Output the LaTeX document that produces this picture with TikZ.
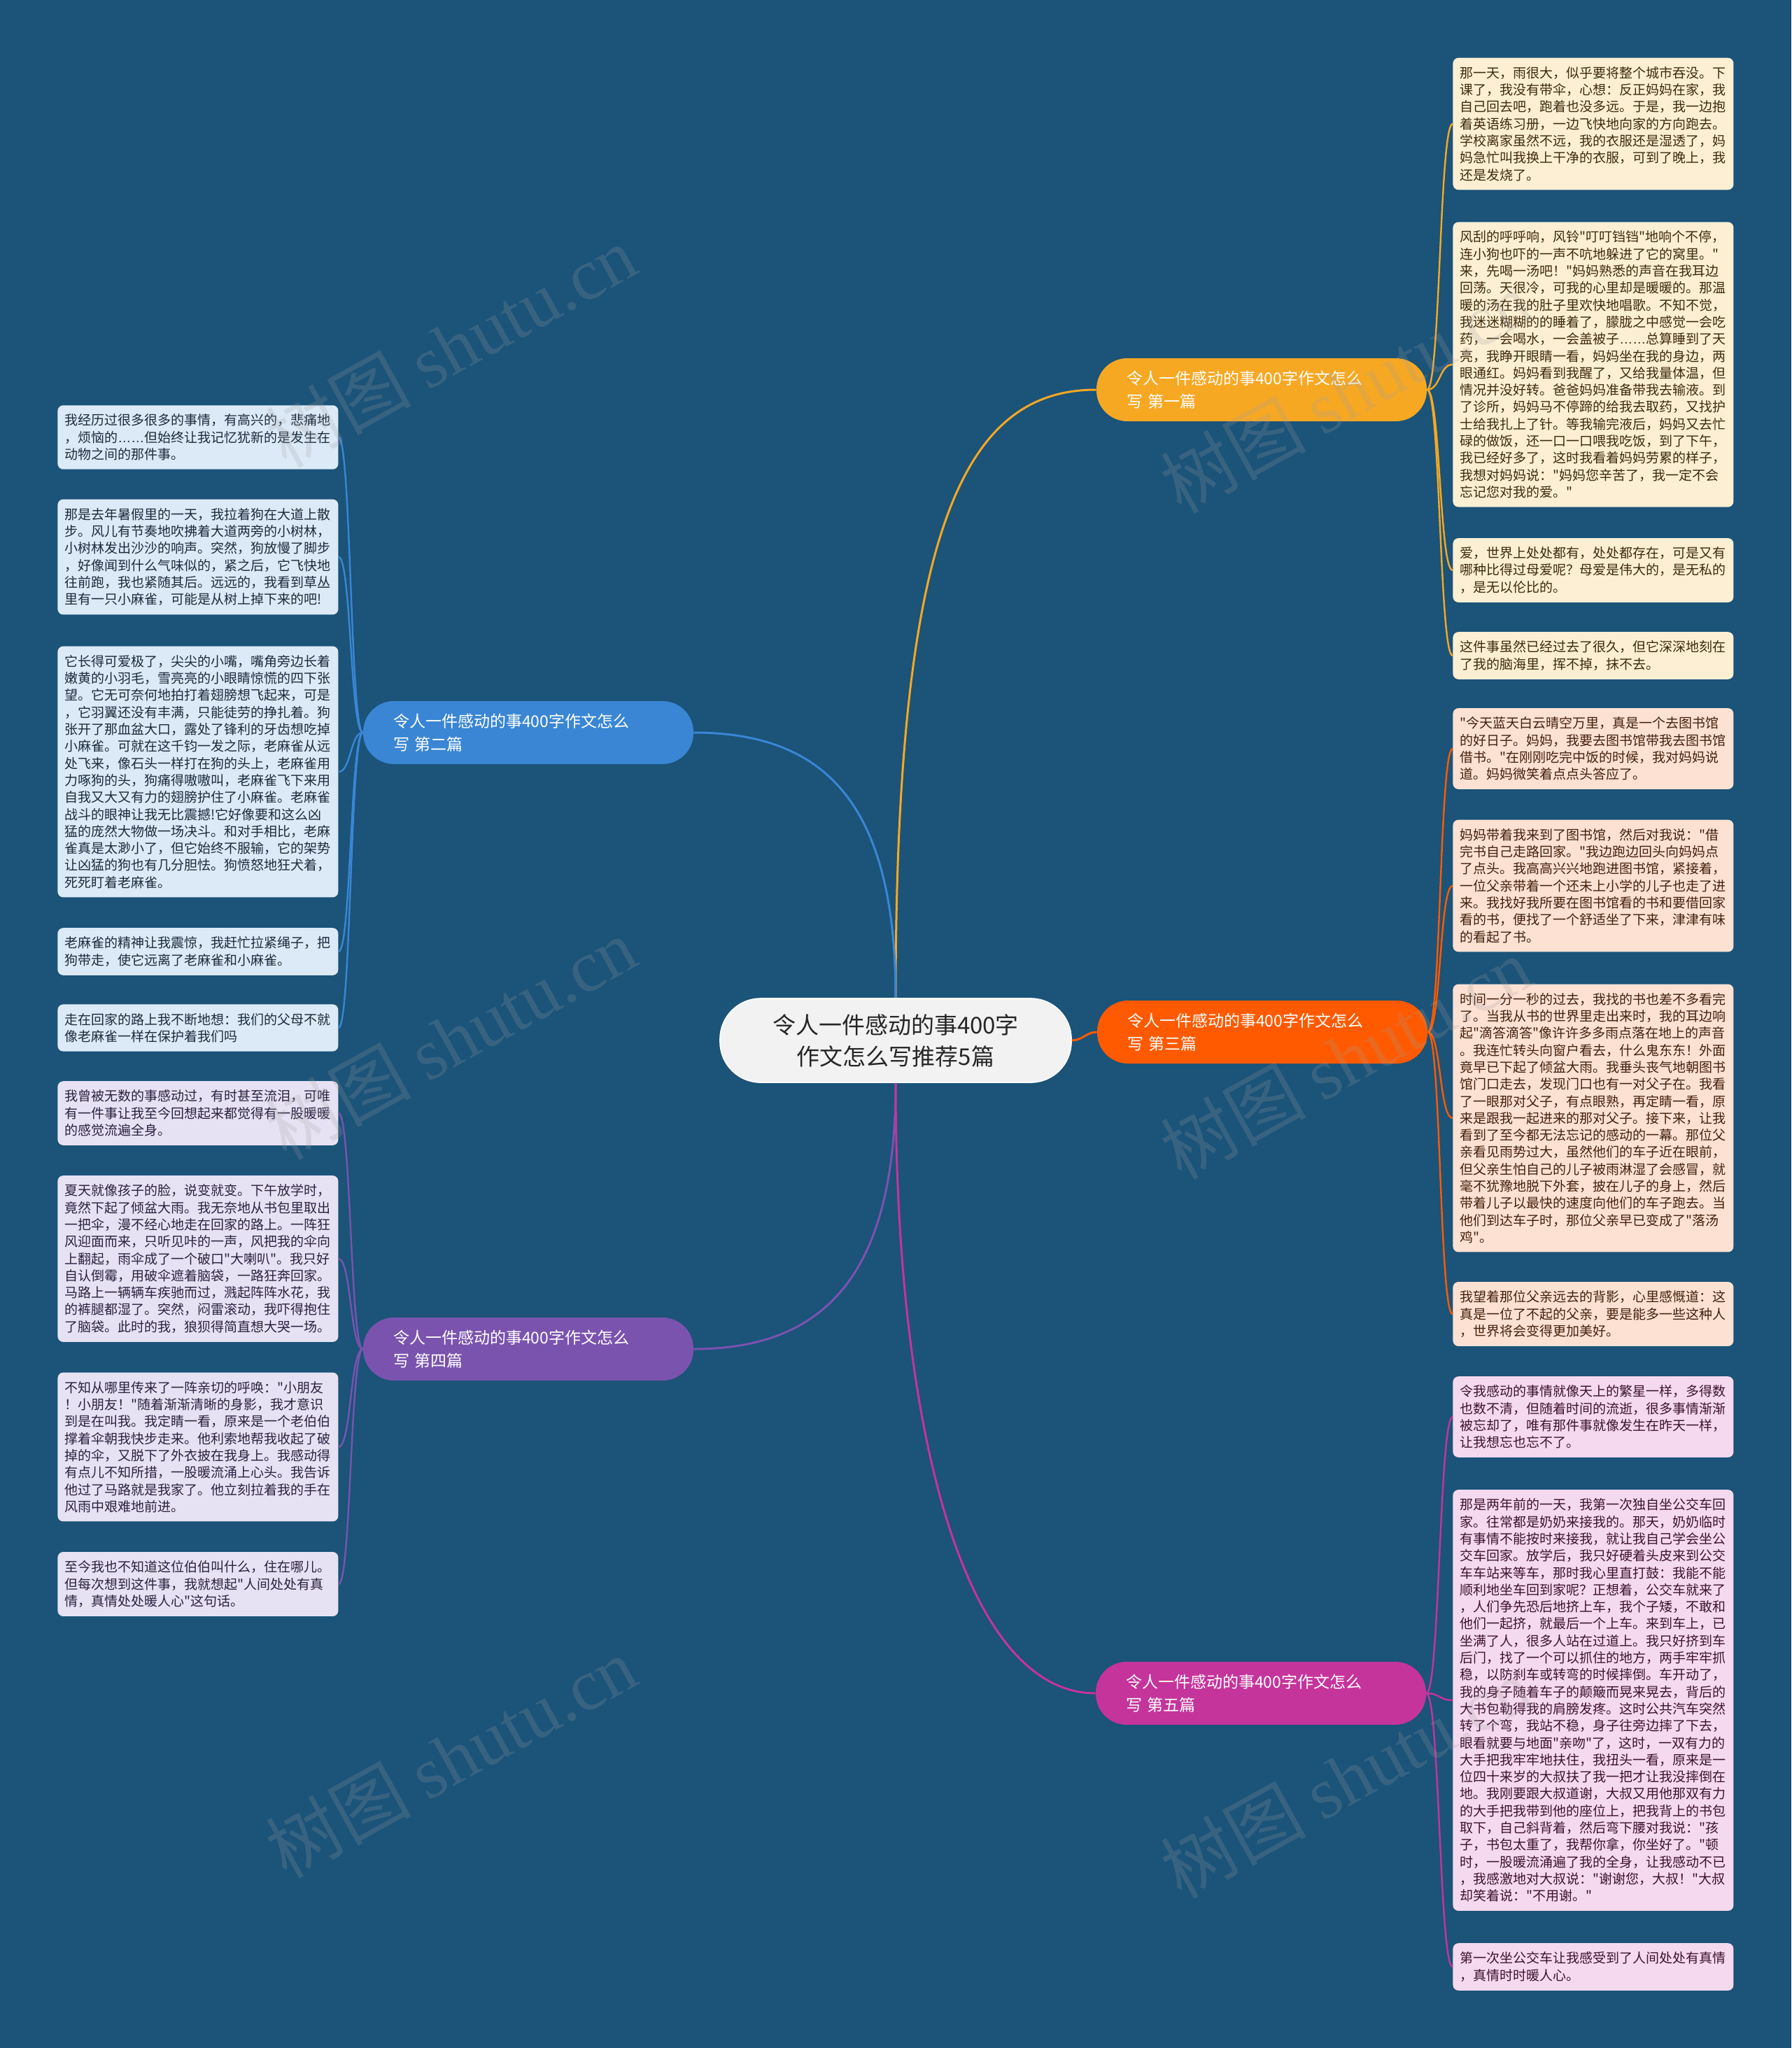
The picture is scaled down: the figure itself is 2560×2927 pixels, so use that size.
\documentclass[tikz,border=0pt]{standalone}
\usepackage{fontspec}
\setmainfont{Noto Sans CJK SC}
\newfontfamily\wmlatin{Liberation Serif}
% plain fonts, no tex-text mapping, so that " stays straight
\font\leafraw="Noto Sans CJK SC" at 9.5pt
\font\dotsraw="Liberation Sans" at 9.5pt
\newcommand\lowdots{{\dotsraw ……}}
\usetikzlibrary{positioning}

\definecolor{bgblue}{HTML}{1B5379}
\definecolor{centerfill}{HTML}{F2F2F2}
\definecolor{centertext}{HTML}{262626}
\definecolor{yel}{HTML}{F7A823}
\definecolor{blu}{HTML}{3A86D4}
\definecolor{org}{HTML}{FF5A00}
\definecolor{pur}{HTML}{7A53AE}
\definecolor{mag}{HTML}{C5349B}
\definecolor{yelleaf}{HTML}{FDEFD4}
\definecolor{bluleaf}{HTML}{DCEAF7}
\definecolor{orgleaf}{HTML}{FDE1D3}
\definecolor{purleaf}{HTML}{E7E2F3}
\definecolor{magleaf}{HTML}{F5D9EE}
\definecolor{yeltext}{HTML}{3E2A0C}
\definecolor{blutext}{HTML}{1C2B3A}
\definecolor{orgtext}{HTML}{44200C}
\definecolor{purtext}{HTML}{2A2140}
\definecolor{magtext}{HTML}{3C1230}

\begin{document}
\begin{tikzpicture}[
        x=0.5pt, y=-0.5pt,
        centerbox/.style={fill=centerfill, draw=white, line width=0.8pt, rounded corners=29pt,
            minimum width=251pt, minimum height=60pt, align=center, text=centertext,
            font=\fontsize{16.5pt}{22.5pt}\selectfont},
        branchbox/.style={fill=#1, rounded corners=22pt, minimum height=45pt, text width=193pt,
            inner xsep=21.5pt, inner ysep=0pt, align=left, text=white,
            font=\fontsize{11.5pt}{16.5pt}\selectfont},
        leafbox/.style={rounded corners=4pt, text width=190.5pt, inner xsep=5pt, inner ysep=6.3pt,
            align=left, anchor=west, font=\fontsize{9.5pt}{12.15pt}\selectfont\leafraw},
        leafyel/.style={leafbox, fill=yelleaf, text=yeltext},
        leafblu/.style={leafbox, fill=bluleaf, text=blutext},
        leaforg/.style={leafbox, fill=orgleaf, text=orgtext},
        leafpur/.style={leafbox, fill=purleaf, text=purtext},
        leafmag/.style={leafbox, fill=magleaf, text=magtext},
        link/.style={draw=#1, line width=1.5pt},
        twig/.style={draw=#1, line width=1.2pt},
        wmark/.style={text=gray!75, opacity=0.22, rotate=29, font=\fontsize{52pt}{52pt}\selectfont}
    ]

    % background
    \fill[bgblue] (0,0) rectangle (2560,2927);

    % ==========================================
    % CENTER + BRANCHES
    % ==========================================
    \node[centerbox] (c) at (1280,1487) {令人一件感动的事400字\\作文怎么写推荐5篇};

    \node[branchbox=yel] (b1) at (1803,557) {令人一件感动的事400字作文怎么\\写 第一篇};
    \node[branchbox=blu] (b2) at (755,1047) {令人一件感动的事400字作文怎么\\写 第二篇};
    \node[branchbox=org] (b3) at (1804,1475) {令人一件感动的事400字作文怎么\\写 第三篇};
    \node[branchbox=pur] (b4) at (755,1928) {令人一件感动的事400字作文怎么\\写 第四篇};
    \node[branchbox=mag] (b5) at (1802,2420) {令人一件感动的事400字作文怎么\\写 第五篇};

    \draw[link=yel] (c.north) .. controls (1280,750) and (1380,557) .. (b1.west);
    \draw[link=blu] (c.north) .. controls (1280,1150) and (1180,1047) .. (b2.east);
    \draw[link=org] (c.east) .. controls +(15,0) and +(-15,0) .. (b3.west);
    \draw[link=pur] (c.south) .. controls (1280,1820) and (1180,1928) .. (b4.east);
    \draw[link=mag] (c.south) .. controls (1280,2050) and (1380,2420) .. (b5.west);

    % ==========================================
    % 第一篇 (right)
    % ==========================================
    \node[leafyel] (one1) at (2076,177) {那一天，雨很大，似乎要将整个城市吞没。下\\课了，我没有带伞，心想：反正妈妈在家，我\\自己回去吧，跑着也没多远。于是，我一边抱\\着英语练习册，一边飞快地向家的方向跑去。\\学校离家虽然不远，我的衣服还是湿透了，妈\\妈急忙叫我换上干净的衣服，可到了晚上，我\\还是发烧了。};
    \node[leafyel] (one2) at (2076,521) {风刮的呼呼响，风铃"叮叮铛铛"地响个不停，\\连小狗也吓的一声不吭地躲进了它的窝里。"\\来，先喝一汤吧！"妈妈熟悉的声音在我耳边\\回荡。天很冷，可我的心里却是暖暖的。那温\\暖的汤在我的肚子里欢快地唱歌。不知不觉，\\我迷迷糊糊的的睡着了，朦胧之中感觉一会吃\\药，一会喝水，一会盖被子\lowdots 总算睡到了天\\亮，我睁开眼睛一看，妈妈坐在我的身边，两\\眼通红。妈妈看到我醒了，又给我量体温，但\\情况并没好转。爸爸妈妈准备带我去输液。到\\了诊所，妈妈马不停蹄的给我去取药，又找护\\士给我扎上了针。等我输完液后，妈妈又去忙\\碌的做饭，还一口一口喂我吃饭，到了下午，\\我已经好多了，这时我看着妈妈劳累的样子，\\我想对妈妈说："妈妈您辛苦了，我一定不会\\忘记您对我的爱。"};
    \node[leafyel] (one3) at (2076,815) {爱，世界上处处都有，处处都存在，可是又有\\哪种比得过母爱呢？母爱是伟大的，是无私的\\，是无以伦比的。};
    \node[leafyel] (one4) at (2076,937) {这件事虽然已经过去了很久，但它深深地刻在\\了我的脑海里，挥不掉，抹不去。};
    \foreach \n in {one1,one2,one3,one4}
        \draw[twig=yel] (b1.east) .. controls +(19,0) and +(-19,0) .. (\n.west);

    % ==========================================
    % 第二篇 (left)
    % ==========================================
    \node[leafblu] (two1) at (82,625) {我经历过很多很多的事情，有高兴的，悲痛地\\，烦恼的\lowdots 但始终让我记忆犹新的是发生在\\动物之间的那件事。};
    \node[leafblu] (two2) at (82,796) {那是去年暑假里的一天，我拉着狗在大道上散\\步。风儿有节奏地吹拂着大道两旁的小树林，\\小树林发出沙沙的响声。突然，狗放慢了脚步\\，好像闻到什么气味似的，紧之后，它飞快地\\往前跑，我也紧随其后。远远的，我看到草丛\\里有一只小麻雀，可能是从树上掉下来的吧!};
    \node[leafblu] (two3) at (82,1103) {它长得可爱极了，尖尖的小嘴，嘴角旁边长着\\嫩黄的小羽毛，雪亮亮的小眼睛惊慌的四下张\\望。它无可奈何地拍打着翅膀想飞起来，可是\\，它羽翼还没有丰满，只能徒劳的挣扎着。狗\\张开了那血盆大口，露处了锋利的牙齿想吃掉\\小麻雀。可就在这千钧一发之际，老麻雀从远\\处飞来，像石头一样打在狗的头上，老麻雀用\\力啄狗的头，狗痛得嗷嗷叫，老麻雀飞下来用\\自我又大又有力的翅膀护住了小麻雀。老麻雀\\战斗的眼神让我无比震撼!它好像要和这么凶\\猛的庞然大物做一场决斗。和对手相比，老麻\\雀真是太渺小了，但它始终不服输，它的架势\\让凶猛的狗也有几分胆怯。狗愤怒地狂犬着，\\死死盯着老麻雀。};
    \node[leafblu] (two4) at (82,1360) {老麻雀的精神让我震惊，我赶忙拉紧绳子，把\\狗带走，使它远离了老麻雀和小麻雀。};
    \node[leafblu] (two5) at (82,1469) {走在回家的路上我不断地想：我们的父母不就\\像老麻雀一样在保护着我们吗};
    \foreach \n in {two1,two2,two3,two4,two5}
        \draw[twig=blu] (\n.east) .. controls +(18,0) and +(-18,0) .. (b2.west);

    % ==========================================
    % 第三篇 (right)
    % ==========================================
    \node[leaforg] (three1) at (2076,1070) {"今天蓝天白云晴空万里，真是一个去图书馆\\的好日子。妈妈，我要去图书馆带我去图书馆\\借书。"在刚刚吃完中饭的时候，我对妈妈说\\道。妈妈微笑着点点头答应了。};
    \node[leaforg] (three2) at (2076,1266) {妈妈带着我来到了图书馆，然后对我说："借\\完书自己走路回家。"我边跑边回头向妈妈点\\了点头。我高高兴兴地跑进图书馆，紧接着，\\一位父亲带着一个还未上小学的儿子也走了进\\来。我找好我所要在图书馆看的书和要借回家\\看的书，便找了一个舒适坐了下来，津津有味\\的看起了书。};
    \node[leaforg] (three3) at (2076,1598) {时间一分一秒的过去，我找的书也差不多看完\\了。当我从书的世界里走出来时，我的耳边响\\起"滴答滴答"像许许多多雨点落在地上的声音\\。我连忙转头向窗户看去，什么鬼东东！外面\\竟早已下起了倾盆大雨。我垂头丧气地朝图书\\馆门口走去，发现门口也有一对父子在。我看\\了一眼那对父子，有点眼熟，再定睛一看，原\\来是跟我一起进来的那对父子。接下来，让我\\看到了至今都无法忘记的感动的一幕。那位父\\亲看见雨势过大，虽然他们的车子近在眼前，\\但父亲生怕自己的儿子被雨淋湿了会感冒，就\\毫不犹豫地脱下外套，披在儿子的身上，然后\\带着儿子以最快的速度向他们的车子跑去。当\\他们到达车子时，那位父亲早已变成了"落汤\\鸡"。};
    \node[leaforg] (three4) at (2076,1878) {我望着那位父亲远去的背影，心里感慨道：这\\真是一位了不起的父亲，要是能多一些这种人\\，世界将会变得更加美好。};
    \foreach \n in {three1,three2,three3,three4}
        \draw[twig=org] (b3.east) .. controls +(19,0) and +(-19,0) .. (\n.west);

    % ==========================================
    % 第四篇 (left)
    % ==========================================
    \node[leafpur] (four1) at (82,1591) {我曾被无数的事感动过，有时甚至流泪，可唯\\有一件事让我至今回想起来都觉得有一股暖暖\\的感觉流遍全身。};
    \node[leafpur] (four2) at (82,1799) {夏天就像孩子的脸，说变就变。下午放学时，\\竟然下起了倾盆大雨。我无奈地从书包里取出\\一把伞，漫不经心地走在回家的路上。一阵狂\\风迎面而来，只听见咔的一声，风把我的伞向\\上翻起，雨伞成了一个破口"大喇叭"。我只好\\自认倒霉，用破伞遮着脑袋，一路狂奔回家。\\马路上一辆辆车疾驰而过，溅起阵阵水花，我\\的裤腿都湿了。突然，闷雷滚动，我吓得抱住\\了脑袋。此时的我，狼狈得简直想大哭一场。};
    \node[leafpur] (four3) at (82,2068) {不知从哪里传来了一阵亲切的呼唤："小朋友\\！小朋友！"随着渐渐清晰的身影，我才意识\\到是在叫我。我定睛一看，原来是一个老伯伯\\撑着伞朝我快步走来。他利索地帮我收起了破\\掉的伞，又脱下了外衣披在我身上。我感动得\\有点儿不知所措，一股暖流涌上心头。我告诉\\他过了马路就是我家了。他立刻拉着我的手在\\风雨中艰难地前进。};
    \node[leafpur] (four4) at (82,2264) {至今我也不知道这位伯伯叫什么，住在哪儿。\\但每次想到这件事，我就想起"人间处处有真\\情，真情处处暖人心"这句话。};
    \foreach \n in {four1,four2,four3,four4}
        \draw[twig=pur] (\n.east) .. controls +(18,0) and +(-18,0) .. (b4.west);

    % ==========================================
    % 第五篇 (right)
    % ==========================================
    \node[leafmag] (five1) at (2076,2025) {令我感动的事情就像天上的繁星一样，多得数\\也数不清，但随着时间的流逝，很多事情渐渐\\被忘却了，唯有那件事就像发生在昨天一样，\\让我想忘也忘不了。};
    \node[leafmag] (five2) at (2076,2430) {那是两年前的一天，我第一次独自坐公交车回\\家。往常都是奶奶来接我的。那天，奶奶临时\\有事情不能按时来接我，就让我自己学会坐公\\交车回家。放学后，我只好硬着头皮来到公交\\车车站来等车，那时我心里直打鼓：我能不能\\顺利地坐车回到家呢？正想着，公交车就来了\\，人们争先恐后地挤上车，我个子矮，不敢和\\他们一起挤，就最后一个上车。来到车上，已\\坐满了人，很多人站在过道上。我只好挤到车\\后门，找了一个可以抓住的地方，两手牢牢抓\\稳，以防刹车或转弯的时候摔倒。车开动了，\\我的身子随着车子的颠簸而晃来晃去，背后的\\大书包勒得我的肩膀发疼。这时公共汽车突然\\转了个弯，我站不稳，身子往旁边摔了下去，\\眼看就要与地面"亲吻"了，这时，一双有力的\\大手把我牢牢地扶住，我扭头一看，原来是一\\位四十来岁的大叔扶了我一把才让我没摔倒在\\地。我刚要跟大叔道谢，大叔又用他那双有力\\的大手把我带到他的座位上，把我背上的书包\\取下，自己斜背着，然后弯下腰对我说："孩\\子，书包太重了，我帮你拿，你坐好了。"顿\\时，一股暖流涌遍了我的全身，让我感动不已\\，我感激地对大叔说："谢谢您，大叔！"大叔\\却笑着说："不用谢。"};
    \node[leafmag] (five3) at (2076,2811) {第一次坐公交车让我感受到了人间处处有真情\\，真情时时暖人心。};
    \foreach \n in {five1,five2,five3}
        \draw[twig=mag] (b5.east) .. controls +(19,0) and +(-19,0) .. (\n.west);

    % watermarks
    \foreach \wx/\wy in {644/495, 644/1484, 644/2511, 1923/560, 1923/1512, 1923/2540}
        \node[wmark] at (\wx,\wy) {树图 {\wmlatin shutu.cn}};

\end{tikzpicture}
\end{document}
